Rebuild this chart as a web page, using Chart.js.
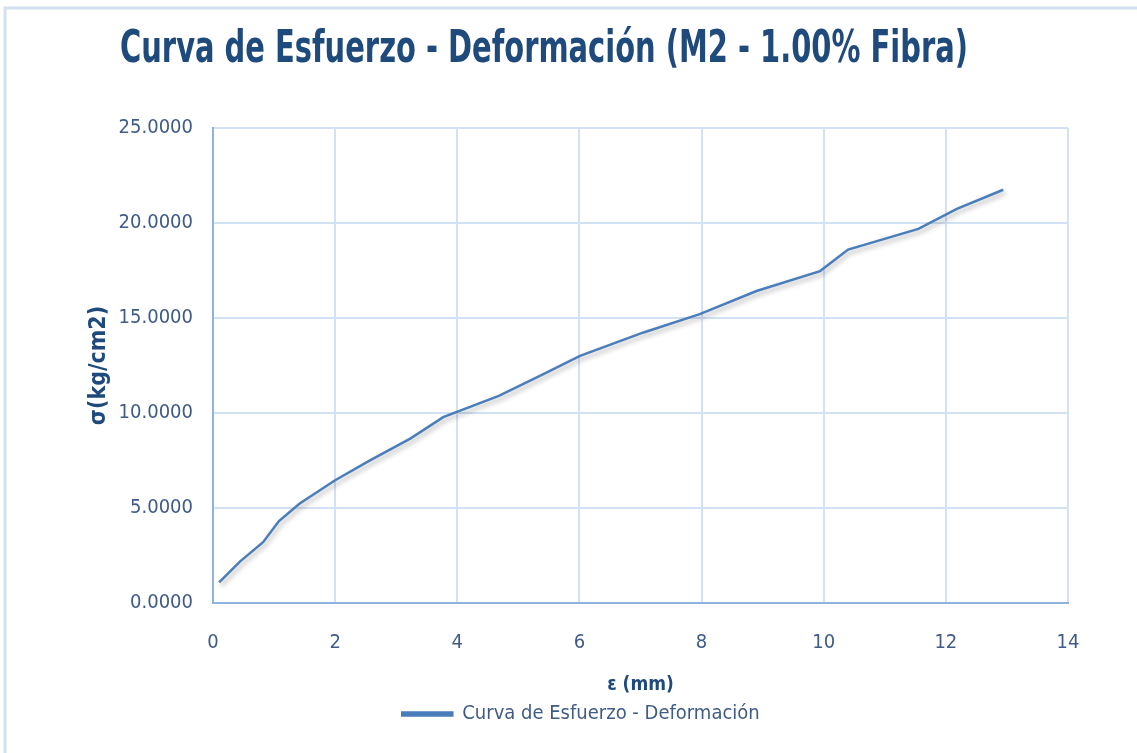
<!DOCTYPE html>
<html>
<head>
<meta charset="utf-8">
<script src="https://cdn.jsdelivr.net/npm/chart.js@4.4.1/dist/chart.umd.min.js"></script>
<style>
  html, body { margin: 0; padding: 0; background: #fff; }
  #wrap { position: relative; width: 1137px; height: 753px; }
</style>
</head>
<body>
<div id="wrap"><canvas id="chart"></canvas></div>
<script>
// deformation (mm) and stress (kg/cm2)
const strain = [0.10, 0.44, 0.82, 1.08, 1.42, 2.00, 2.57, 3.23, 3.77, 4.68, 5.41, 6.01, 7.05, 7.97, 8.90, 9.94, 10.40, 11.55, 12.18, 12.94];
const stress = [1.08, 2.18, 3.20, 4.31, 5.24, 6.46, 7.51, 8.65, 9.78, 10.90, 12.05, 13.01, 14.24, 15.20, 16.42, 17.47, 18.60, 19.69, 20.74, 21.75];

const xTickValues = [0, 2, 4, 6, 8, 10, 12, 14];
const yTickValues = [0, 5, 10, 15, 20, 25];

const seriesLabel = "Curva de Esfuerzo - Deformación";
const chartTitle = "Curva de Esfuerzo - Deformación (M2 - 1.00% Fibra)";

const NARROW = "'DejaVu Sans Condensed', 'Liberation Sans Narrow', sans-serif";
const TEXT_BLUE = "#3f5b86";
const TITLE_BLUE = "#1f4a7c";

const points = strain.map((x, i) => ({ x: x, y: stress[i] }));

// soft drop shadow under the line, like the Excel style
const lineShadow = {
  id: "lineShadow",
  beforeDatasetDraw(chart) {
    const c = chart.ctx;
    c.save();
    c.shadowColor = "rgba(0,0,0,0.30)";
    c.shadowBlur = 5;
    c.shadowOffsetX = 2;
    c.shadowOffsetY = 3;
  },
  afterDatasetDraw(chart) {
    chart.ctx.restore();
  },
};

// light frame round the chart
const frame = {
  id: "frame",
  beforeDraw(chart) {
    const c = chart.ctx;
    c.save();
    c.strokeStyle = "#d5e1f0";
    c.lineWidth = 3;
    c.strokeRect(5, 8, chart.width + 20, chart.height + 20);
    c.restore();
  },
};

// title and legend in the original sit left of centre; the narrower
// title box also squeezes the tall title text like the Excel font
const boxShift = {
  id: "boxShift",
  afterLayout(chart) {
    const t = chart.titleBlock;
    t.left = 120;
    t.right = 968;
    t.width = t.right - t.left;
    chart.legend.left += 37;
    chart.legend.right += 37;
  },
};

new Chart(document.getElementById("chart"), {
  type: "line",
  data: {
    datasets: [
      {
        label: seriesLabel,
        data: points,
        borderColor: "#4a7ebb",
        backgroundColor: "#4a7ebb",
        borderWidth: 2.5,
        pointRadius: 0,
        tension: 0,
        fill: false,
      },
    ],
  },
  plugins: [lineShadow, frame, boxShift],
  options: {
    responsive: true,
    maintainAspectRatio: false,
    animation: false,
    layout: { padding: { left: 20, right: 69, top: 0, bottom: 19 } },
    plugins: {
      title: {
        display: true,
        text: chartTitle,
        color: TITLE_BLUE,
        font: { family: NARROW, size: 45, weight: "bold" },
        padding: { top: 23, bottom: 51 },
      },
      legend: {
        position: "bottom",
        labels: {
          color: TEXT_BLUE,
          font: { family: NARROW, size: 20 },
          boxWidth: 50,
          boxHeight: 3,
          padding: 8,
        },
      },
      tooltip: { enabled: false },
    },
    scales: {
      x: {
        type: "linear",
        min: xTickValues[0],
        max: xTickValues[xTickValues.length - 1],
        afterBuildTicks: (s) => {
          s.ticks = xTickValues.map((v) => ({ value: v }));
        },
        afterFit: (s) => {
          s.height = 93;
        },
        ticks: {
          color: TEXT_BLUE,
          font: { family: NARROW, size: 20 },
          padding: 28,
        },
        grid: { color: "#d3e1f4", lineWidth: 2, drawTicks: false },
        border: { color: "#8eb3e0", width: 2 },
        title: {
          display: true,
          text: "ε (mm)",
          color: TITLE_BLUE,
          font: { family: NARROW, size: 19, weight: "bold" },
          padding: { top: 0, bottom: 0 },
        },
      },
      y: {
        type: "linear",
        min: yTickValues[0],
        max: yTickValues[yTickValues.length - 1],
        afterBuildTicks: (s) => {
          s.ticks = yTickValues.map((v) => ({ value: v }));
        },
        afterFit: (s) => {
          s.width = 193;
        },
        ticks: {
          color: TEXT_BLUE,
          font: { family: NARROW, size: 20 },
          padding: 20,
          callback: (v) => Number(v).toFixed(4),
        },
        grid: { color: "#d3e1f4", lineWidth: 2, drawTicks: false },
        border: { color: "#8eb3e0", width: 2 },
        title: {
          display: true,
          text: "σ(kg/cm2)",
          color: TITLE_BLUE,
          font: { family: NARROW, size: 23, weight: "bold" },
          padding: { top: 65, bottom: 0 },
        },
      },
    },
  },
});
</script>
</body>
</html>
